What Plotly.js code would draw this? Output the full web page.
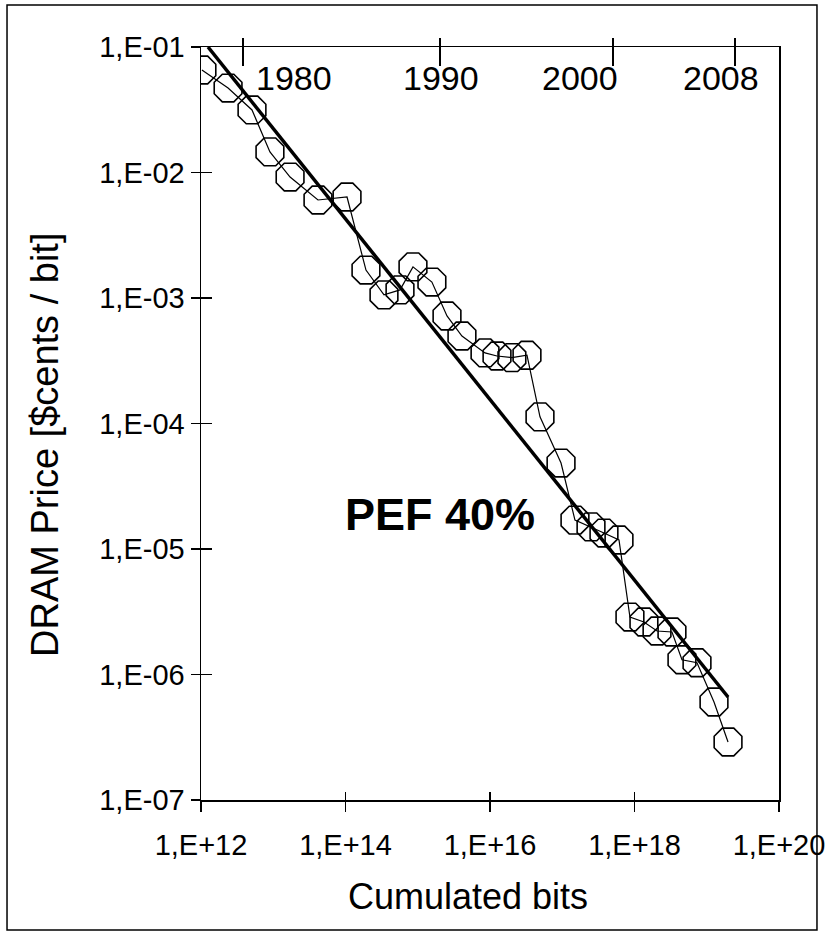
<!DOCTYPE html>
<html>
<head>
<meta charset="utf-8">
<script src="https://cdn.plot.ly/plotly-3.0.1.min.js"></script>
<style>html,body{margin:0;padding:0;background:#fff;}#chart{width:826px;height:936px;}</style>
</head>
<body>
<div id="chart"></div>
<script>
// ---- data ----
const cumBits = [1.03e12, 2.37e12, 5.08e12, 9.0e12, 1.71e13, 4.16e13, 1.05e14, 1.92e14,
  3.41e14, 5.68e14, 8.59e14, 1.57e15, 2.54e15, 4.09e15, 8.53e15, 1.25e16, 2.01e16, 3.25e16,
  4.92e16, 9.62e16, 1.50e17, 2.50e17, 3.78e17, 6.10e17, 8.65e17, 1.35e18, 2.05e18, 3.30e18,
  4.54e18, 7.33e18, 1.26e19, 1.97e19];
const dramPrice = [6.56e-2, 4.71e-2, 3.15e-2, 1.46e-2, 9.2e-3, 6.04e-3, 6.38e-3, 1.67e-3,
  1.06e-3, 1.16e-3, 1.77e-3, 1.34e-3, 7.19e-4, 4.98e-4, 3.65e-4, 3.45e-4, 3.35e-4, 3.5e-4,
  1.13e-4, 4.84e-5, 1.70e-5, 1.50e-5, 1.34e-5, 1.18e-5, 2.87e-6, 2.62e-6, 2.22e-6, 2.18e-6,
  1.31e-6, 1.24e-6, 6.04e-7, 2.90e-7];
const fitBits = [1.25e12, 1.97e19];
const fitPrice = [1e-1, 6.62e-7];
const xTickVals = [1e12, 1e14, 1e16, 1e18, 1e20];
const xTickText = ["1,E+12", "1,E+14", "1,E+16", "1,E+18", "1,E+20"];
const yTickVals = [1e-7, 1e-6, 1e-5, 1e-4, 1e-3, 1e-2, 1e-1];
const yTickText = ["1,E-07", "1,E-06", "1,E-05", "1,E-04", "1,E-03", "1,E-02", "1,E-01"];
const yearLabels = ["1980", "1990", "2000", "2008"];
const yearBits = [3.8e12, 2.04e15, 5.0e17, 2.45e19];
const pefLabel = "PEF 40%";
const xTitle = "Cumulated bits";
const yTitle = "DRAM Price [$cents / bit]";

// ---- style ----
const FONT = "Liberation Sans, Arial, Helvetica, sans-serif";
const yearLabelShift = [51, 1, -33, -14];
const K = "#000";

const traces = [
  {x: cumBits, y: dramPrice, type: "scatter", mode: "lines+markers",
   line: {color: K, width: 1.2},
   marker: {symbol: "octagon-open", size: 30, color: K, line: {color: K, width: 1.6}},
   showlegend: false, hoverinfo: "skip"},
  {x: fitBits, y: fitPrice, type: "scatter", mode: "lines",
   line: {color: K, width: 3.5}, showlegend: false, hoverinfo: "skip"}
];
// carrier traces (draw nothing) so the overlay tick axes are created
[["x2", "y"], ["x3", "y"], ["x4", "y"], ["x", "y2"]].forEach(([xa, ya]) => {
  traces.push({x: fitBits, y: fitPrice, xaxis: xa, yaxis: ya, type: "scatter", mode: "none",
    showlegend: false, hoverinfo: "skip"});
});

const baseX = {type: "log", range: [12, 20], showgrid: false, zeroline: false, fixedrange: true};
const baseY = {type: "log", range: [-7, -1], showgrid: false, zeroline: false, fixedrange: true};

const annotations = yearLabels.map((t, i) => ({
  text: t, x: Math.log10(yearBits[i]), xref: "x", y: 1, yref: "paper",
  xanchor: "center", yanchor: "middle", yshift: -31, xshift: yearLabelShift[i],
  showarrow: false, font: {family: FONT, size: 34, color: K}
}));
annotations.push({text: "<b>" + pefLabel + "</b>", x: 0.4135, y: 0.3785, xref: "paper", yref: "paper",
  xanchor: "center", yanchor: "middle", showarrow: false, font: {family: FONT, size: 45, color: K}});
annotations.push({text: xTitle, x: 0.462, y: -0.1288, xref: "paper", yref: "paper",
  xanchor: "center", yanchor: "middle", showarrow: false, font: {family: FONT, size: 36, color: K}});
annotations.push({text: yTitle, x: -0.27, y: 0.4714, xref: "paper", yref: "paper", textangle: -90,
  xanchor: "center", yanchor: "middle", showarrow: false, font: {family: FONT, size: 38, color: K}});

const layout = {
  width: 826, height: 936,
  margin: {l: 201, r: 47, t: 47, b: 136},
  paper_bgcolor: "#fff", plot_bgcolor: "#fff",
  font: {family: FONT, color: K},
  showlegend: false,
  xaxis: Object.assign({}, baseX, {
    tickvals: xTickVals, ticktext: xTickText, ticks: "outside", ticklen: 10, tickwidth: 1.5, tickcolor: K,
    ticklabelstandoff: 9,
    showline: true, linecolor: K, linewidth: 1.5, mirror: true,
    tickfont: {family: FONT, size: 29, color: K}}),
  xaxis3: Object.assign({}, baseX, {overlaying: "x", anchor: "y", side: "bottom",
    tickvals: xTickVals, ticks: "inside", ticklen: 8, tickwidth: 1.5, tickcolor: K, showticklabels: false, showline: false}),
  xaxis2: Object.assign({}, baseX, {overlaying: "x", anchor: "y", side: "top",
    tickvals: yearBits, ticks: "outside", ticklen: 8, tickwidth: 1.5, tickcolor: K, showticklabels: false, showline: false}),
  xaxis4: Object.assign({}, baseX, {overlaying: "x", anchor: "y", side: "top",
    tickvals: yearBits, ticks: "inside", ticklen: 19, tickwidth: 1.5, tickcolor: K, showticklabels: false, showline: false}),
  yaxis: Object.assign({}, baseY, {
    tickvals: yTickVals, ticktext: yTickText, ticks: "outside", ticklen: 9, tickwidth: 1.5, tickcolor: K,
    showline: true, linecolor: K, linewidth: 1.5, mirror: true,
    tickfont: {family: FONT, size: 29, color: K}}),
  yaxis2: Object.assign({}, baseY, {overlaying: "y", anchor: "x", side: "left",
    tickvals: yTickVals, ticks: "inside", ticklen: 11, tickwidth: 1.5, tickcolor: K, showticklabels: false, showline: false}),
  annotations: annotations,
  shapes: [{type: "rect", xref: "paper", yref: "paper", x0: -0.3356, x1: 1.0657, y0: -0.1726, y1: 1.0558,
    line: {color: K, width: 1.5}, fillcolor: "rgba(0,0,0,0)", layer: "below"}]
};

Plotly.newPlot("chart", traces, layout, {staticPlot: true, displayModeBar: false});
</script>
</body>
</html>
